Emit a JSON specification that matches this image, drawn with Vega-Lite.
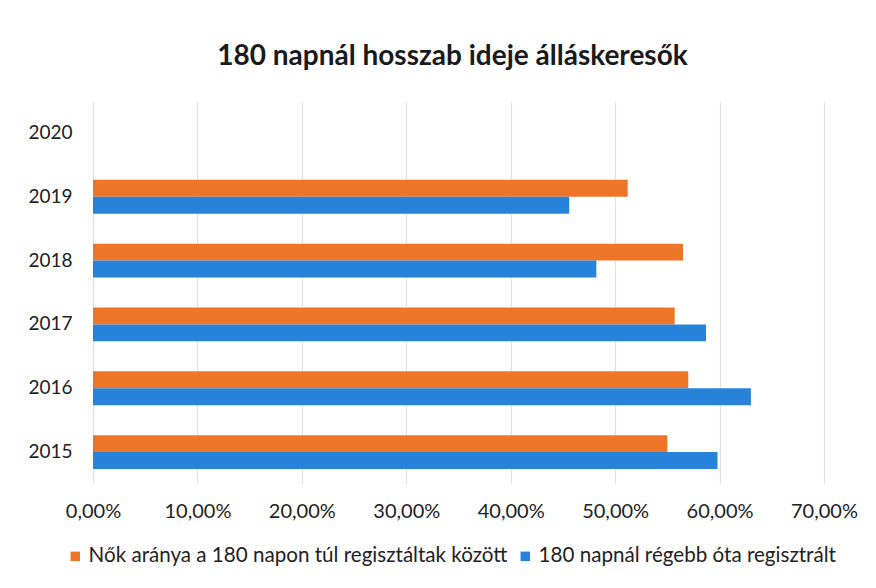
{
  "$schema": "https://vega.github.io/schema/vega-lite/v6.json",
  "autosize": "none",
  "width": 731,
  "height": 383,
  "padding": {"left": 93, "top": 101, "right": 52, "bottom": 104},
  "background": "white",
  "title": {
    "text": "180 napnál hosszab ideje álláskeresők",
    "font": "Lato",
    "fontSize": 28,
    "fontWeight": "bold",
    "color": "#1a1a1a",
    "anchor": "middle",
    "dx": -6,
    "offset": 30
  },
  "data": {
    "values": [
      {"year": "2019", "series": "Nők aránya a 180 napon túl regisztáltak között", "value": 0.512},
      {"year": "2019", "series": "180 napnál régebb óta regisztrált", "value": 0.456},
      {"year": "2018", "series": "Nők aránya a 180 napon túl regisztáltak között", "value": 0.565},
      {"year": "2018", "series": "180 napnál régebb óta regisztrált", "value": 0.482},
      {"year": "2017", "series": "Nők aránya a 180 napon túl regisztáltak között", "value": 0.557},
      {"year": "2017", "series": "180 napnál régebb óta regisztrált", "value": 0.587},
      {"year": "2016", "series": "Nők aránya a 180 napon túl regisztáltak között", "value": 0.570},
      {"year": "2016", "series": "180 napnál régebb óta regisztrált", "value": 0.630},
      {"year": "2015", "series": "Nők aránya a 180 napon túl regisztáltak között", "value": 0.550},
      {"year": "2015", "series": "180 napnál régebb óta regisztrált", "value": 0.598}
    ]
  },
  "mark": {"type": "bar"},
  "encoding": {
    "y": {
      "field": "year",
      "type": "nominal",
      "scale": {"domain": ["2020", "2019", "2018", "2017", "2016", "2015"], "paddingInner": 0.47, "paddingOuter": 0.235},
      "axis": {
        "title": null,
        "domain": false,
        "ticks": false,
        "labelFont": "Lato",
        "labelFontSize": 19,
        "labelColor": "#222222",
        "labelPadding": 21
      }
    },
    "yOffset": {
      "field": "series",
      "type": "nominal",
      "scale": {"domain": ["Nők aránya a 180 napon túl regisztáltak között", "180 napnál régebb óta regisztrált"], "paddingInner": 0, "paddingOuter": 0}
    },
    "x": {
      "field": "value",
      "type": "quantitative",
      "scale": {"domain": [0, 0.7], "nice": false},
      "axis": {
        "title": null,
        "domain": false,
        "ticks": false,
        "values": [0, 0.1, 0.2, 0.3, 0.4, 0.5, 0.6, 0.7],
        "labelExpr": "replace(format(datum.value, '.2%'), '.', ',')",
        "labelFont": "Lato",
        "labelFontSize": 20,
        "labelColor": "#222222",
        "labelPadding": 17,
        "labelFlush": false,
        "gridColor": "#e3e3e3",
        "gridWidth": 1.2
      }
    },
    "color": {
      "field": "series",
      "type": "nominal",
      "scale": {
        "domain": ["Nők aránya a 180 napon túl regisztáltak között", "180 napnál régebb óta regisztrált"],
        "range": ["#EE7428", "#2783D9"]
      },
      "legend": {
        "title": null,
        "orient": "none",
        "direction": "horizontal",
        "legendX": -28,
        "legendY": 445,
        "symbolType": "square",
        "symbolSize": 90,
        "symbolOpacity": 1,
        "symbolStrokeWidth": 0,
        "labelFont": "Lato",
        "labelFontSize": 20.6,
        "labelColor": "#222222",
        "labelOffset": 3,
        "columnPadding": 7,
        "labelLimit": 700
      }
    }
  },
  "config": {"view": {"stroke": null}}
}
